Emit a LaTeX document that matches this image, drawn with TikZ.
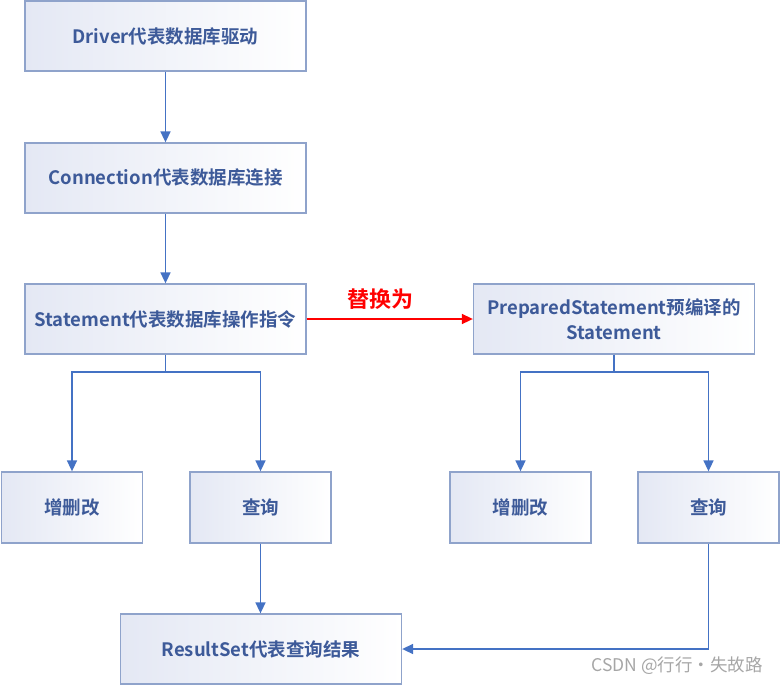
\documentclass[tikz,border=0pt]{standalone}
\usepackage{fontspec}
\newfontfamily\cjk{Noto Sans CJK SC}[BoldFont={* Bold}]
\usetikzlibrary{arrows.meta,shadings}
\definecolor{boxline}{HTML}{8FA3CB}
\definecolor{boxtext}{HTML}{3D5A99}
\definecolor{arrowblue}{HTML}{4472C4}
\definecolor{boxfill}{HTML}{E4E8F4}
\tikzset{
  box/.style={draw=boxline, line width=1.3pt, minimum width=281pt, minimum height=70pt,
    inner sep=0pt, align=center, text=boxtext, font=\cjk\bfseries\fontsize{18.5}{25}\selectfont,
    shading=axis, shading angle=135, left color=boxfill, right color=white},
  sbox/.style={box, minimum width=141pt, minimum height=71pt},
  conn/.style={draw=arrowblue, line width=1.6pt, -{Triangle[length=11pt,width=10pt]}},
  line/.style={draw=arrowblue, line width=1.6pt},
}
\begin{document}
\begin{tikzpicture}[x=1pt,y=-1pt]
\useasboundingbox (0,0) rectangle (781,686);
\node[box] (drv) at (165.5,36) {Driver代表数据库驱动};
\node[box] (con) at (165.5,178) {Connection代表数据库连接};
\node[box] (stm) at (165.5,319) {Statement代表数据库操作指令};
\node[box] (pst) at (614,319) {PreparedStatement预编译的\\Statement};
\node[sbox] (crud1) at (72,507.5) {增删改};
\node[sbox] (qry1) at (260.5,507.5) {查询};
\node[sbox] (crud2) at (520.5,507.5) {增删改};
\node[sbox] (qry2) at (708.5,507.5) {查询};
\node[box] (rs) at (261,649) {ResultSet代表查询结果};
\coordinate (j1) at (165.5,372);
\coordinate (j2) at (614,372);
\path[conn] (drv) -- (con);
\path[conn] (con) -- (stm);
\path[line] (stm) -- (j1);
\path[conn] (j1) -| (crud1);
\path[conn] (j1) -| (qry1);
\path[line] (pst.south) -- (j2);
\path[conn] (j2) -| (crud2);
\path[conn] (j2) -| (qry2);
\path[conn] (qry1.south) -- (qry1.south |- rs.north);
\path[conn] (qry2.south) |- (rs.east);
\draw[red, line width=1.6pt, -{Triangle[length=11pt,width=10pt]}] (stm.east) -- node[above=5pt, xshift=-9pt, font=\cjk\bfseries\fontsize{22}{24}\selectfont, text=red] (lbl) {替换为} (pst.west);
\node[font=\cjk\fontsize{17.5}{18}\selectfont, text=gray!70, anchor=center] (wm) at (677,666) {CSDN @行行·失故路};
\end{tikzpicture}
\end{document}
